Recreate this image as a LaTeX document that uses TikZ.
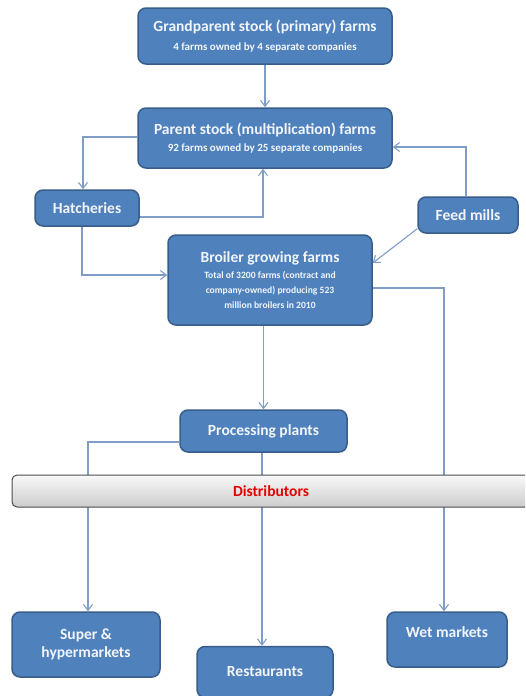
\documentclass[tikz,border=0pt]{standalone}
\usepackage{fontspec}
\setmainfont{Carlito}
\usetikzlibrary{arrows.meta}
\definecolor{boxfill}{HTML}{4F81BD}
\definecolor{boxdraw}{HTML}{385D8A}
\definecolor{connc}{HTML}{7F9DC6}
\definecolor{txt}{HTML}{F2F5FA}
\newcommand{\subsz}{\fontsize{11}{13}\selectfont}
\newcommand{\brsz}{\fontsize{9.6}{15}\selectfont}
\begin{document}
\begin{tikzpicture}[x=1pt,y=-1pt,
  box/.style={draw=boxdraw,line width=1.5pt,fill=boxfill,rounded corners=8pt,
    text=txt,font=\bfseries\fontsize{15.5}{18}\selectfont,align=center,inner sep=0pt},
  connector/.style={draw=connc,line width=1.1pt,-{Straight Barb[length=6pt,width=9pt]}},
  bar/.style={draw=black!70,line width=1pt,rounded corners=5pt,top color=white!95!gray,
    bottom color=gray!40,text=red!90!black,font=\bfseries\fontsize{15.5}{18}\selectfont,inner sep=0pt}
]
\useasboundingbox (0,0) rectangle (525,696);
\clip (0,0) rectangle (525,696);

\node[box,minimum width=254pt,minimum height=56pt] (gp) at (265,36)
  {Grandparent stock (primary) farms\\[1pt]\subsz 4 farms owned by 4 separate companies};
\node[box,minimum width=254pt,minimum height=60pt] (parent) at (265,138)
  {Parent stock (multiplication) farms\\[-1pt]\subsz 92 farms owned by 25 separate companies};
\node[box,minimum width=104pt,minimum height=36pt] (hatch) at (87,208) {Hatcheries};
\node[box,minimum width=100pt,minimum height=36pt] (feed) at (468,215) {Feed mills};
\node[box,minimum width=204pt,minimum height=90pt] (broiler) at (270,280)
  {Broiler growing farms\\[-2pt]\brsz Total of 3200 farms (contract and\\[-3pt]\brsz company-owned) producing 523\\[-3pt]\brsz million broilers in 2010};
\node[box,minimum width=167pt,minimum height=42pt] (proc) at (263.5,431) {Processing plants};
\node[box,minimum width=148pt,minimum height=65pt] (super) at (86,644.5) {Super \&\\hypermarkets};
\node[box,minimum width=136pt,minimum height=51pt] (rest) at (265,672) {Restaurants};
\node[box,minimum width=120pt,minimum height=55pt,text depth=14pt] (wet) at (447,639.5) {Wet markets};

\draw[connector] (gp) -- (parent);
\draw[connector] ([yshift=1pt]parent.west) -| ([xshift=-4pt]hatch.north);
\draw[connector] ([yshift=-9pt]hatch.east) -| ([xshift=-2pt]parent.south);
\draw[connector] ([xshift=-5pt]hatch.south) |- ([yshift=5pt]broiler.west);
\draw[connector] ([xshift=-2pt]feed.north) |- ([yshift=-9pt]parent.east);
\draw[connector] ([yshift=5pt]feed.south west) -- ([yshift=17pt]broiler.east);
\draw[connector] ([yshift=-8pt]broiler.east) -| ([xshift=-3pt]wet.north);
\draw[connector] (broiler.south -| proc.north) -- (proc.north);
\draw[connector] ([yshift=-11pt]proc.west) -| ([xshift=2pt]super.north);
\draw[connector] ([xshift=-1.5pt]proc.south) -- ([xshift=-1.5pt]proc.south |- rest.north);

\node[bar,minimum width=518pt,minimum height=32pt] (dist) at (271,491) {Distributors};
\end{tikzpicture}
\end{document}
